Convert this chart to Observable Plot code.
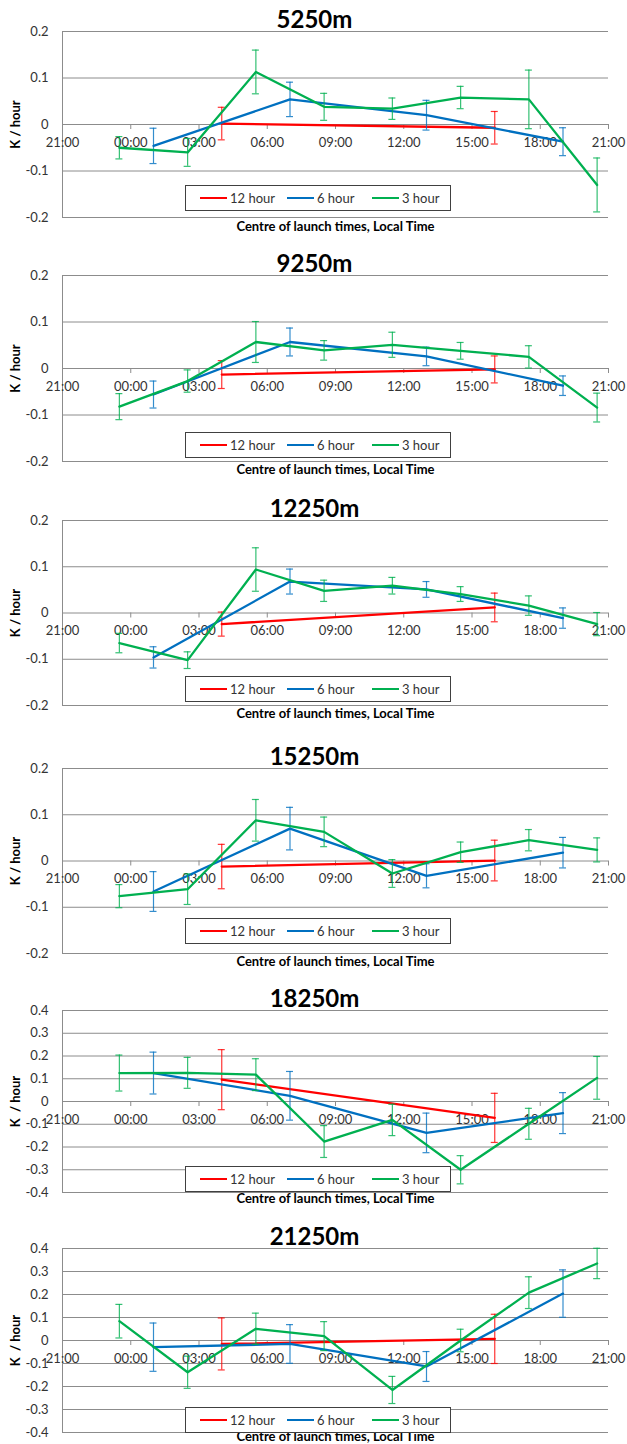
<!DOCTYPE html>
<html><head><meta charset="utf-8">
<script src="https://cdn.jsdelivr.net/npm/d3@7"></script>
<script src="https://cdn.jsdelivr.net/npm/@observablehq/plot@0.6"></script>
<style>
body{margin:0;background:#fff;}
#root{position:relative;width:627px;height:1444px;overflow:hidden;font-family:Lato,"Open Sans",sans-serif;background:#fff;}
.panel{position:absolute;left:0;}
.legend{position:absolute;left:185px;width:266px;height:26px;border:1px solid #404040;background:#fff;box-sizing:border-box;font-size:13px;color:#333;}
.legend .item{position:absolute;top:0;height:24px;display:flex;align-items:center;white-space:nowrap;}
.legend .sw{display:inline-block;width:27px;height:2px;margin-right:3px;}
</style>
</head><body><div id="root"></div>
<script>
// ---- data ----
const panelTitles = ["5250m","9250m","12250m","15250m","18250m","21250m"];
const yAxisTitles = ["K / hour","K / hour","K / hour","K / hour","K \u00a0/ hour","K \u00a0/ hour"];
const xAxisTitle = "Centre of launch times, Local Time";
const xTickLabels = ["21:00","00:00","03:00","06:00","09:00","12:00","15:00","18:00","21:00"];
const yTicksSmall = [-0.2,-0.1,0,0.1,0.2];
const yTicksLarge = [-0.4,-0.3,-0.2,-0.1,0,0.1,0.2,0.3,0.4];
const seriesNames = ["12 hour","6 hour","3 hour"];
const seriesColors = ["#FF0000","#0070C0","#00B050"];

const times12 = ["04:00","16:00"];
const times6 = ["01:00","07:00","13:00","19:00"];
const times3 = ["23:30","02:30","05:30","08:30","11:30","14:30","17:30","20:30"];

const vals12 = [[0.002,-0.007],[-0.013,-0.002],[-0.024,0.012],[-0.012,0.001],[0.096,-0.072],[-0.015,0.007]];
const errs12 = [[0.035,0.035],[0.030,0.029],[0.026,0.031],[0.048,0.044],[0.132,0.108],[0.113,0.107]];

const vals6 = [
  [-0.046,0.054,0.020,-0.037],
  [-0.056,0.057,0.026,-0.037],
  [-0.096,0.068,0.051,-0.011],
  [-0.066,0.070,-0.032,0.018],
  [0.125,0.025,-0.138,-0.051],
  [-0.029,-0.015,-0.113,0.204]];
const errs6 = [
  [0.038,0.037,0.032,0.030],
  [0.029,0.030,0.020,0.021],
  [0.023,0.027,0.017,0.022],
  [0.043,0.046,0.026,0.033],
  [0.092,0.107,0.087,0.090],
  [0.105,0.084,0.065,0.103]];

const vals3 = [
  [-0.050,-0.060,0.113,0.038,0.034,0.058,0.054,-0.130],
  [-0.082,-0.027,0.057,0.039,0.051,0.038,0.025,-0.084],
  [-0.065,-0.102,0.094,0.048,0.059,0.041,0.016,-0.024],
  [-0.076,-0.061,0.088,0.063,-0.027,0.019,0.045,0.024],
  [0.125,0.126,0.118,-0.176,-0.081,-0.300,-0.098,0.104],
  [0.084,-0.138,0.051,0.019,-0.215,0.000,0.208,0.335]];
const errs3 = [
  [0.024,0.030,0.047,0.029,0.023,0.024,0.063,0.058],
  [0.028,0.024,0.044,0.021,0.027,0.018,0.024,0.031],
  [0.021,0.018,0.047,0.023,0.018,0.016,0.021,0.025],
  [0.025,0.033,0.045,0.032,0.030,0.022,0.023,0.026],
  [0.079,0.068,0.070,0.070,0.069,0.062,0.068,0.094],
  [0.073,0.070,0.068,0.063,0.059,0.049,0.069,0.066]];

// ---- layout ----
const W = 627, ML = 62, MR = 19, MT = 34, MB = 18;
const plotTops = [31,275,520,768,1010,1248];
const plotBottoms = [217,461,705,953,1192,1432];
const legendOffsets = [154,157,156,150,156,159];
const xTitleOffsets = [9,8,8,8,6,4];
const legendItemLeft = [14,101,186];

const allTimes = [times12, times6, times3];
const allVals = [vals12, vals6, vals3];
const allErrs = [errs12, errs6, errs3];

function toHour(t){ const [h,m] = t.split(":").map(Number); return ((h - 21 + 24) % 24) + m/60; }
const fmt = d => d === 0 ? "0" : String(+d.toFixed(1));
const xTickPos = xTickLabels.map((_, j) => j * 3);

const root = document.getElementById("root");

panelTitles.forEach((title, i) => {
  const yT = i >= 4 ? yTicksLarge : yTicksSmall;
  const plotH = plotBottoms[i] - plotTops[i];
  const marks = [
    Plot.ruleY(yT, {stroke: "#8c8c8c", strokeWidth: 1}),
    Plot.ruleX([0], {stroke: "#8c8c8c", strokeWidth: 1}),
    Plot.ruleX(xTickPos, {x: d => d, y1: 0, y2: 0, insetBottom: -5, stroke: "#8c8c8c", strokeWidth: 1}),
    Plot.text(xTickPos, {x: d => d, y: 0, text: (d, j) => xTickLabels[j], dy: 18, fill: "#333", fontSize: 13})
  ];
  seriesNames.forEach((s, k) => {
    const rows = allTimes[k].map((t, j) => ({x: toHour(t), v: allVals[k][i][j], e: allErrs[k][i][j]}));
    const c = seriesColors[k];
    marks.push(
      Plot.ruleX(rows, {x: "x", y1: d => d.v - d.e, y2: d => d.v + d.e, stroke: c, strokeWidth: 1.2, strokeOpacity: 0.8}),
      Plot.ruleY(rows, {y: d => d.v - d.e, x1: "x", x2: "x", insetLeft: -3.5, insetRight: -3.5, stroke: c, strokeWidth: 1.2, strokeOpacity: 0.8}),
      Plot.ruleY(rows, {y: d => d.v + d.e, x1: "x", x2: "x", insetLeft: -3.5, insetRight: -3.5, stroke: c, strokeWidth: 1.2, strokeOpacity: 0.8}),
      Plot.line(rows, {x: "x", y: "v", stroke: c, strokeWidth: 2.3})
    );
  });
  marks.push(
    Plot.text([title], {frameAnchor: "top", lineAnchor: "middle", textAnchor: "middle", text: d => d, dx: -21, dy: -11, fontSize: 24, fontWeight: "bold", fill: "#000"}),
    Plot.text([yAxisTitles[i]], {frameAnchor: "left", lineAnchor: "middle", textAnchor: "middle", text: d => d, dx: -47, rotate: -90, fontSize: 13, fontWeight: "bold", fill: "#000"}),
    Plot.text([xAxisTitle], {frameAnchor: "bottom", lineAnchor: "middle", textAnchor: "middle", text: d => d, dy: xTitleOffsets[i], fontSize: 13, fontWeight: "bold", fill: "#000"})
  );
  const svg = Plot.plot({
    width: W, height: plotH + MT + MB,
    marginLeft: ML, marginRight: MR, marginTop: MT, marginBottom: MB,
    x: {domain: [0, 24], axis: null},
    y: {domain: [yT[0], yT[yT.length - 1]], ticks: yT, tickFormat: fmt, tickSize: 0, tickPadding: 14, label: null},
    style: {fontFamily: "Lato, 'Open Sans', sans-serif", fontSize: "13px", color: "#333", background: "transparent", overflow: "visible"},
    marks
  });
  svg.classList.add("panel");
  svg.style.top = (plotTops[i] - MT) + "px";
  svg.style.position = "absolute";
  root.appendChild(svg);

  const lg = document.createElement("div");
  lg.className = "legend";
  lg.style.top = (plotTops[i] + legendOffsets[i]) + "px";
  seriesNames.forEach((s, k) => {
    const it = document.createElement("div");
    it.className = "item";
    it.style.left = legendItemLeft[k] + "px";
    const sw = document.createElement("span");
    sw.className = "sw";
    sw.style.background = seriesColors[k];
    it.appendChild(sw);
    it.appendChild(document.createTextNode(s));
    lg.appendChild(it);
  });
  root.appendChild(lg);
});
</script>
</body></html>
